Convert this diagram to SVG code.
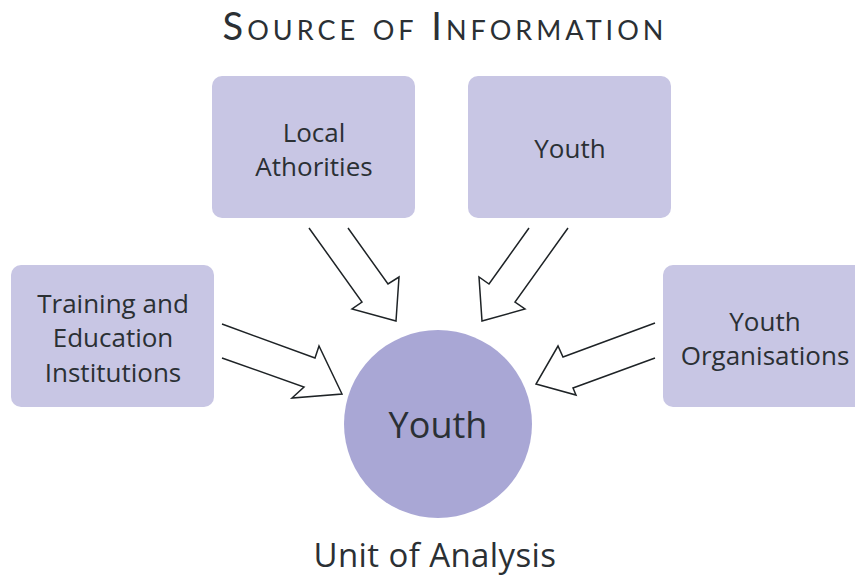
<svg xmlns="http://www.w3.org/2000/svg" width="855" height="577" viewBox="0 0 855 577">
<style>
.box{fill:#c8c6e4;}
.circ{fill:#a9a7d5;}
.t{font-family:"Open Sans",Lato,"Liberation Sans",sans-serif;fill:#2b3034;text-anchor:middle;}
.lbl{font-size:26px;}
.arr{fill:#ffffff;stroke:#1e2326;stroke-width:1.5;stroke-linejoin:miter;}
</style>
<rect width="855" height="577" fill="#ffffff"/>
<text class="t" x="445" y="40" font-size="38" style="font-family:Lato,'Open Sans',sans-serif;font-variant:small-caps;letter-spacing:4px">Source of Information</text>
<g id="connectors">
<path class="arr" d="M309,228 L362,302 L352,309 L396,321 L399,277 L388,284 L348,228"/>
<path class="arr" d="M568,228 L515,302 L525,309 L482,321 L479,277 L489,284 L529,228"/>
<path class="arr" d="M222,324 L315,358 L319,346 L342,394 L292,398 L304,387 L222,358"/>
<path class="arr" d="M655,323 L563,357 L558,346 L536,384 L576,395 L573,388 L655,358"/>
</g>
<g id="local-authorities">
<rect class="box" x="212" y="76" width="203" height="142" rx="10"/>
<text class="t lbl" x="314" y="142">Local</text>
<text class="t lbl" x="314" y="176">Athorities</text>
</g>
<g id="youth-source">
<rect class="box" x="468" y="76" width="203" height="142" rx="10"/>
<text class="t lbl" x="570" y="158">Youth</text>
</g>
<g id="training">
<rect class="box" x="11" y="265" width="203" height="142" rx="10"/>
<text class="t lbl" x="113" y="313">Training and</text>
<text class="t lbl" x="113" y="347">Education</text>
<text class="t lbl" x="113" y="382">Institutions</text>
</g>
<g id="youth-organisations">
<rect class="box" x="663" y="265" width="203" height="142" rx="10"/>
<text class="t lbl" x="765" y="331">Youth</text>
<text class="t lbl" x="765" y="365">Organisations</text>
</g>
<g id="youth-unit">
<circle class="circ" cx="438" cy="424" r="94"/>
<text class="t" x="438" y="438" font-size="36">Youth</text>
</g>
<text class="t" x="435" y="567" font-size="33" style="letter-spacing:0.4px">Unit of Analysis</text>
</svg>
